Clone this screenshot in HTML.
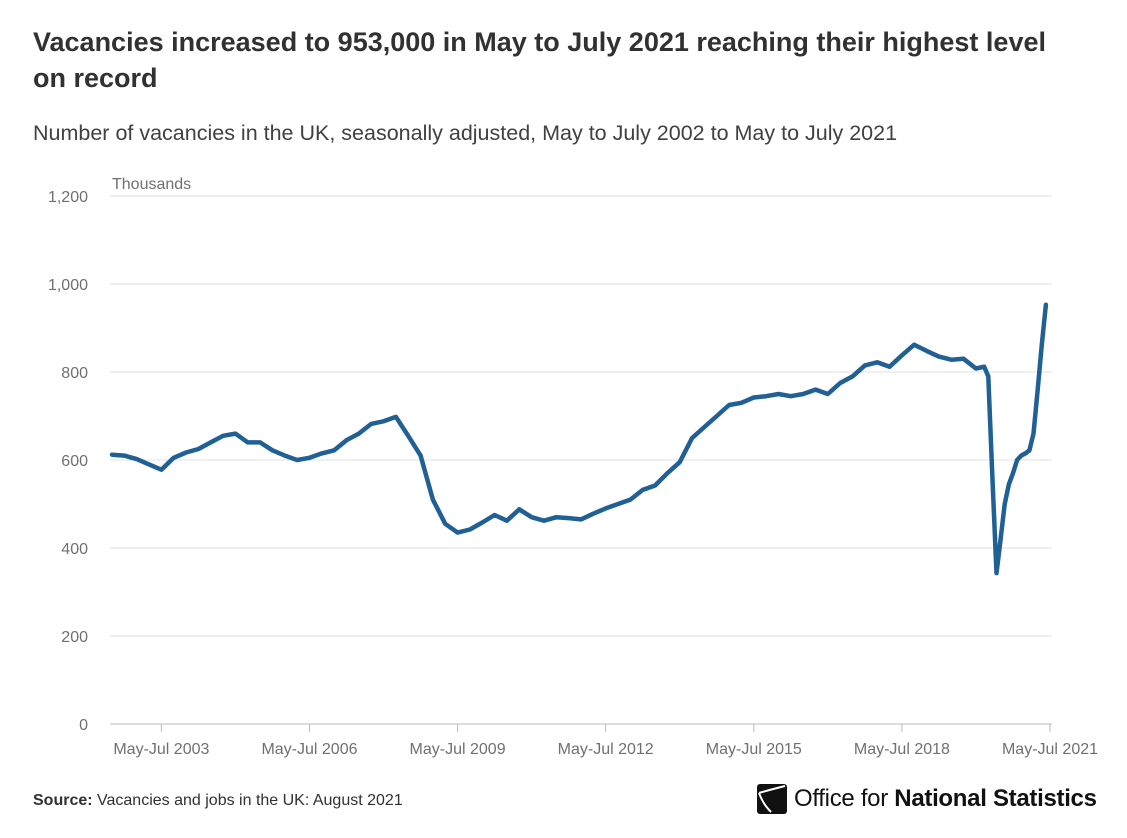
<!DOCTYPE html>
<html><head><meta charset="utf-8">
<style>
body{margin:0;background:#fff;width:1127px;height:838px;overflow:hidden;font-family:"Liberation Sans",sans-serif;}
#title{position:absolute;left:33px;top:24px;width:1050px;font-size:27px;font-weight:bold;color:#323132;line-height:36px;margin:0;}
#subtitle{position:absolute;left:33px;top:121px;font-size:21.5px;color:#414042;margin:0;}
#source{position:absolute;left:33px;top:792px;font-size:16px;color:#323132;}
#logo{position:absolute;left:757px;top:784px;display:flex;align-items:center;}
svg#chart{position:absolute;left:0;top:0;}
</style></head><body>
<h1 id="title">Vacancies increased to 953,000 in May to July 2021 reaching their highest level on record</h1>
<p id="subtitle">Number of vacancies in the UK, seasonally adjusted, May to July 2002 to May to July 2021</p>
<svg id="chart" width="1127" height="780"></svg>
<div id="source"><b>Source:</b> Vacancies and jobs in the UK: August 2021</div>
<div id="logo">
<svg width="30" height="30" viewBox="0 0 30 30"><rect x="0" y="0" width="30" height="30" rx="3" fill="#111"/><path d="M2 9 Q12 6 28 2 M2 9 Q6 20 14 28" stroke="#fff" stroke-width="2" fill="none"/></svg>
<span style="font-size:24px;color:#111;margin-left:7px;letter-spacing:-0.3px;">Office for <b style="font-weight:600">National Statistics</b></span>
</div>
<script>
// month offsets from May-Jul 2002
const months = [0,3,6,9,12,15,18,21,24,27,30,33,36,39,42,45,48,51,54,57,60,63,66,69,72,75,78,81,84,87,90,93,96,99,102,105,108,111,114,117,120,123,126,129,132,135,138,141,144,147,150,153,156,159,162,165,168,171,174,177,180,183,186,189,192,195,198,201,204,207,210,212,213,214,215,216,217,218,219,220,221,222,223,224,225,226,227,228];
const values = [612,610,602,590,578,605,617,625,640,655,660,640,640,622,610,600,605,615,622,645,660,682,688,698,655,610,510,455,435,442,458,475,462,488,470,462,470,468,465,478,490,500,510,532,542,570,595,650,675,700,725,730,742,745,750,745,750,760,750,775,790,815,822,812,838,862,848,835,828,830,808,812,790,560,343,420,500,545,570,600,610,615,622,660,760,862,953];
const yTicks = [0,200,400,600,800,1000,1200];
const yTickLabels = ["0","200","400","600","800","1,000","1,200"];
const xTickMonths = [12,48,84,120,156,192,228];
const xTickLabels = ["May-Jul 2003","May-Jul 2006","May-Jul 2009","May-Jul 2012","May-Jul 2015","May-Jul 2018","May-Jul 2021"];

const NS="http://www.w3.org/2000/svg";
const svg=document.getElementById('chart');
const X0=112, X1=1050, Y0=724, Y1=196;
const x=m=>X0+(m/228)*(X1-X0);
const y=v=>Y0-(v/1200)*(Y0-Y1);
function mk(t,a){const e=document.createElementNS(NS,t);for(const k in a)e.setAttribute(k,a[k]);svg.appendChild(e);return e;}
yTicks.forEach((v,i)=>{
  if(v>0){const g=mk('line',{x1:110,x2:1052,y1:y(v),y2:y(v),stroke:'#e2e2e2','stroke-width':1});
  
  }
  const t=mk('text',{x:88,y:y(v)+6,'text-anchor':'end','font-size':16,fill:'#707070','font-family':'Liberation Sans, sans-serif'});
  t.textContent=yTickLabels[i];
  
  
});
const ax=mk('line',{x1:110,x2:1052,y1:Y0,y2:Y0,stroke:'#bbbbbb','stroke-width':1});


xTickMonths.forEach((m,i)=>{
  const tk=mk('line',{x1:x(m),x2:x(m),y1:Y0,y2:Y0+8,stroke:'#bbbbbb','stroke-width':1});
  
  
  const t=mk('text',{x:x(m),y:Y0+30,'text-anchor':'middle','font-size':16,fill:'#707070','font-family':'Liberation Sans, sans-serif'});
  t.textContent=xTickLabels[i];
  
  
});
const yl=mk('text',{x:112,y:189,'font-size':16,fill:'#707070','font-family':'Liberation Sans, sans-serif'});
yl.textContent='Thousands';


let d='';
months.forEach((m,i)=>{d+=(i?'L':'M')+x(m).toFixed(1)+' '+y(values[i]).toFixed(1);});
const p=mk('path',{d:d,fill:'none',stroke:'#206095','stroke-width':4.5,'stroke-linejoin':'round','stroke-linecap':'round'});


</script>
</body></html>
